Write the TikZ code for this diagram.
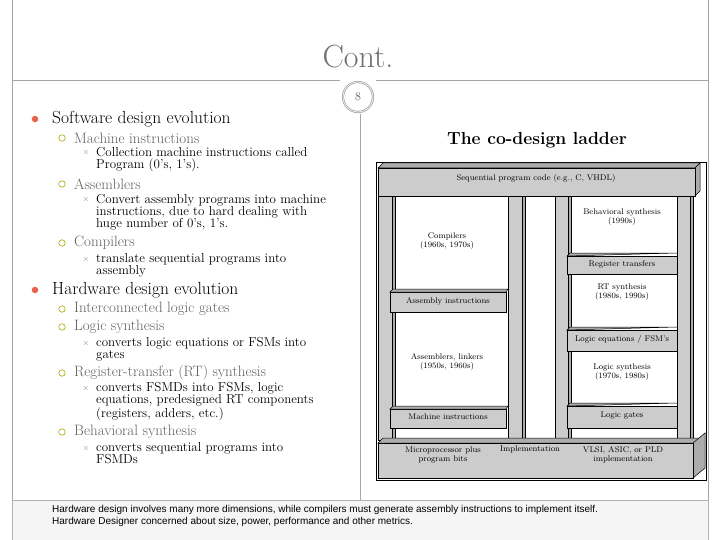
\documentclass[tikz,border=0pt]{standalone}
\usepackage{fontspec}
\newfontfamily\footfont{Liberation Sans}
\begin{document}
\begin{tikzpicture}[x=1pt,y=-1pt,
  bar/.style={draw=black,fill=gray!40,line width=0.5pt},
  side/.style={draw=black,fill=gray!65,line width=0.5pt},
  lab/.style={font=\fontsize{8.2}{9.5}\selectfont,align=center,inner sep=0pt},
  l1/.style={anchor=west,font=\fontsize{17.5}{18}\selectfont,inner sep=0pt},
  l2/.style={anchor=west,font=\fontsize{15}{16}\selectfont,text=gray!75!black,inner sep=0pt},
  l3/.style={anchor=north west,font=\fontsize{13}{12.3}\selectfont,align=left,inner sep=0pt},
  xm/.style={text=gray,font=\footnotesize,inner sep=0pt},
  oc/.style={draw=olive!70!yellow,circle,inner sep=2.3pt,line width=0.6pt},
  dot/.style={fill=red!55!brown!80,circle,inner sep=2.3pt},
  frame/.style={draw=gray!70,line width=0.8pt}]
\useasboundingbox (0,0) rectangle (720,540);
\draw[frame] (12,0) -- (12,500);
\draw[frame] (708,0) -- (708,500);
\draw[frame] (12,80) -- (340,80);
\draw[frame] (376,80) -- (708,80);
\node[frame,circle,minimum size=30pt,double,font=\fontsize{12}{12}\selectfont,text=gray!70!black] (pg) at (358,97) {8};
\draw[frame] (360,114) -- (360,500);
\draw[draw=gray!60,fill=gray!8] (12,500) rectangle (708,540);
\node[font=\fontsize{32}{32}\selectfont,text=gray!60!black!80] (title) at (358,57) {Cont.};
\node[dot] (b1) at (35,119) {};
\node[l1] (t1) at (52,119) {Software design evolution};
\node[oc] (c1) at (62,138) {};
\node[l2] (t2) at (74,138) {Machine instructions};
\node[xm] (x1) at (86,153) {$\times$};
\node[l3] (t3) at (96,147) {Collection machine instructions called\\Program (0's, 1's).};
\node[oc] (c2) at (62,184) {};
\node[l2] (t4) at (74,184) {Assemblers};
\node[xm] (x2) at (86,200) {$\times$};
\node[l3] (t5) at (96,194) {Convert assembly programs into machine\\instructions, due to hard dealing with\\huge number of 0's, 1's.};
\node[oc] (c3) at (62,243) {};
\node[l2] (t6) at (74,243) {Compilers};
\node[xm] (x3) at (86,259) {$\times$};
\node[l3] (t7) at (96,253) {translate sequential programs into\\assembly};
\node[dot] (b2) at (35,290) {};
\node[l1] (t8) at (52,290) {Hardware design evolution};
\node[oc] (c4) at (62,309) {};
\node[l2] (t9) at (74,309) {Interconnected logic gates};
\node[oc] (c5) at (62,327) {};
\node[l2] (t10) at (74,327) {Logic synthesis};
\node[xm] (x4) at (86,343) {$\times$};
\node[l3] (t11) at (96,337) {converts logic equations or FSMs into\\gates};
\node[oc] (c6) at (62,373) {};
\node[l2] (t12) at (74,373) {Register-transfer (RT) synthesis};
\node[xm] (x5) at (86,388) {$\times$};
\node[l3] (t13) at (96,382) {converts FSMDs into FSMs, logic\\equations, predesigned RT components\\(registers, adders, etc.)};
\node[oc] (c7) at (62,432) {};
\node[l2] (t14) at (74,432) {Behavioral synthesis};
\node[xm] (x6) at (86,448) {$\times$};
\node[l3] (t15) at (96,442) {converts sequential programs into\\FSMDs};
\node[font=\bfseries\fontsize{17.5}{18}\selectfont] (lt) at (537,140) {The co-design ladder};
\draw[draw=black,fill=white] (376,162) rectangle (706,480);
\foreach \a/\b in {378/392,508/522,555/568,677/690}{
  \draw[bar] (\a,196) rectangle (\b,440);
  \draw[side] (\b,196) rectangle (\b+3,440);
}
\draw[side] (378,168) -- (383,163) -- (700,163) -- (695,168) -- cycle;
\draw[side] (695,168) -- (700,163) -- (700,191) -- (695,196) -- cycle;
\draw[bar] (378,168) rectangle (695,196);
\node[lab] (seq) at (536,178) {Sequential program code (e.g., C, VHDL)};
\draw[bar] (390,292) rectangle (506,312); \draw[side] (390,292) -- (393,289) -- (508,289) -- (506,292) -- cycle;
\node[lab] (asm) at (448,301) {Assembly instructions};
\draw[bar] (390,409) rectangle (506,428); \draw[side] (390,409) -- (393,406) -- (508,406) -- (506,409) -- cycle;
\node[lab] (mi) at (448,417) {Machine instructions};
\draw[bar] (567,256) rectangle (677,274); \draw[side] (567,256) -- (570,253) -- (677,253) -- cycle;
\node[lab] (rt) at (622,264) {Register transfers};
\draw[bar] (567,330) rectangle (677,351); \draw[side] (567,330) -- (570,327) -- (677,327) -- cycle;
\node[lab] (le) at (622,339) {Logic equations / FSM's};
\draw[bar] (567,406) rectangle (677,428); \draw[side] (567,406) -- (570,403) -- (677,403) -- cycle;
\node[lab] (lg) at (622,416) {Logic gates};
\draw[side] (378,443) -- (383,438) -- (705,438) -- (700,443) -- cycle;
\draw[side] (693,443) -- (705,433) -- (705,468) -- (693,478) -- cycle;
\draw[bar] (378,443) rectangle (693,478);
\node[lab] (mp) at (443,455) {Microprocessor plus\\program bits};
\node[lab] (im) at (530,449) {Implementation};
\node[lab] (vl) at (623,455) {VLSI, ASIC, or PLD\\implementation};
\node[lab] (cmp) at (447,241) {Compilers\\(1960s, 1970s)};
\node[lab] (asl) at (447,362) {Assemblers, linkers\\(1950s, 1960s)};
\node[lab] (bs) at (622,217) {Behavioral synthesis\\(1990s)};
\node[lab] (rts) at (622,292) {RT synthesis\\(1980s, 1990s)};
\node[lab] (ls) at (622,372) {Logic synthesis\\(1970s, 1980s)};
\node[anchor=west,inner sep=0pt,font=\footfont\fontsize{10}{12}\selectfont,align=left] (ft) at (52,516) {Hardware design involves many more dimensions, while compilers must generate assembly instructions to implement itself.\\Hardware Designer concerned about size, power, performance and other metrics.};
\end{tikzpicture}
\end{document}
